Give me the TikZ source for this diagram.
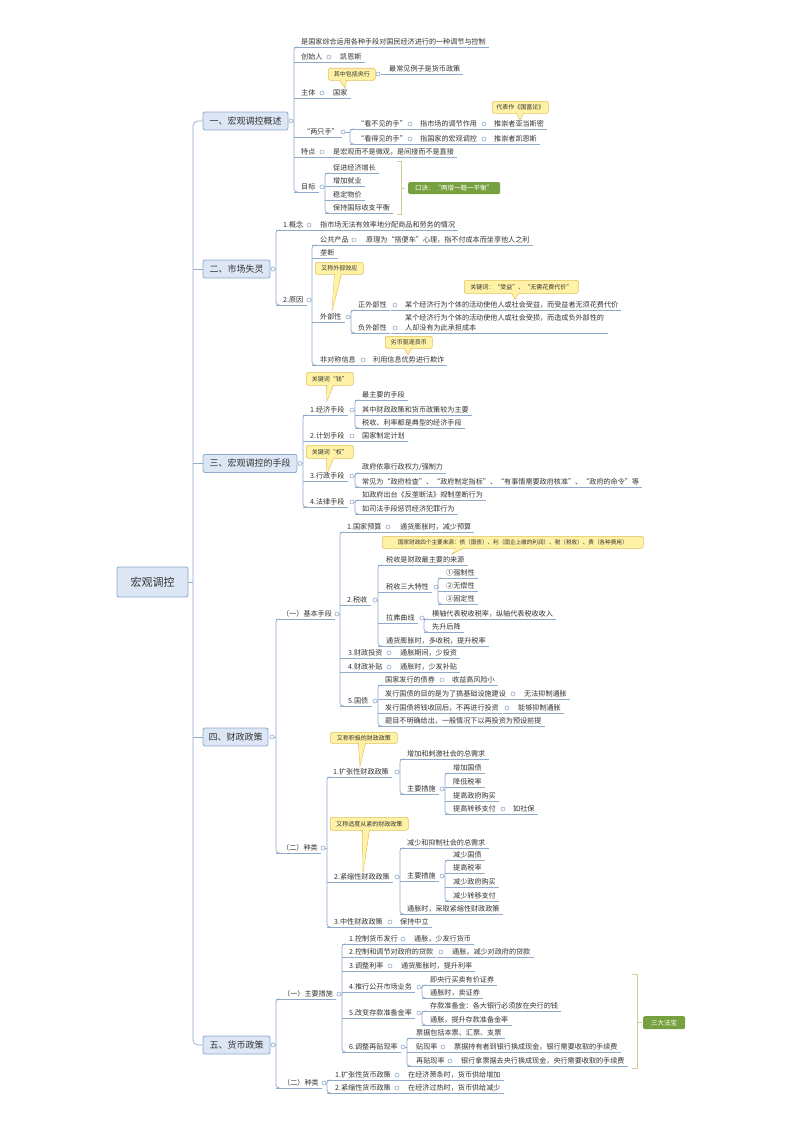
\documentclass[tikz,border=0pt]{standalone}
\usepackage{fontspec}
\setmainfont{Noto Sans CJK SC}
\definecolor{lnc}{HTML}{90AACC}
\definecolor{tpf}{HTML}{DCE6F4}
\definecolor{tpd}{HTML}{8EA8CC}
\definecolor{cof}{HTML}{FFF1A6}
\definecolor{cod}{HTML}{E2C25A}
\definecolor{grn}{HTML}{77A13E}
\definecolor{bkc}{HTML}{D8C99A}
\definecolor{txt}{HTML}{333333}
\tikzset{
 ln/.style={draw=lnc,line width=0.7pt},
 lfs/.style={anchor=south west,inner xsep=0pt,inner ysep=1.6pt,font=\fontsize{7.1}{8.5}\selectfont,text=txt},
 dotst/.style={circle,draw=lnc,fill=white,inner sep=0pt,minimum size=4pt,line width=0.6pt},
 topic/.style={rounded corners=2pt,draw=tpd,fill=tpf,line width=0.8pt,font=\fontsize{9}{10}\selectfont,text=txt,inner sep=0pt},
 callst/.style={rounded corners=2pt,draw=cod,fill=cof,line width=0.6pt,font=\fontsize{6}{7}\selectfont,text=txt,inner sep=0pt,anchor=north west},
 grnst/.style={rounded corners=1.5pt,fill=grn,text=white,font=\fontsize{6.5}{7}\selectfont\itshape,inner sep=0pt,anchor=north west},
 bk/.style={draw=bkc,line width=0.8pt}
}
\newcommand\lf[5]{\node[lfs] (#1) at (#3,#4) {#5};\draw[ln] (#2,#4) -- ([xshift=3pt]#1.south east);}
\newcommand\dt[3]{\node[dotst] (#1) at (#2,#3-5) {};}
\newcommand\tr[5]{\draw[ln] (#1.east) -- (#2,#3);\draw[ln,rounded corners=3pt] (#2+4,#4) -- (#2,#4) -- (#2,#5) -- (#2+4,#5);}
% name x1 y1 x2 y2 basex tipx tipy text
\newcommand\co[9]{\node[callst,minimum width=#4-#2,minimum height=#5-#3] (#1) at (#2,#3) {#9};
 \draw[draw=cod,line width=0.6pt,fill=cof] (#6-3.5,#5) -- (#7,#8) -- (#6+3.5,#5);
 \fill[cof] (#6-3,#5-0.8) -- (#7,#8-1) -- (#6+3,#5-0.8) -- cycle;}
\begin{document}
\begin{tikzpicture}[x=1pt,y=-1pt]
\useasboundingbox[fill=white] (0,0) rectangle (800,1132);
% root and topics
\node[topic,minimum width=71,minimum height=30,font=\fontsize{11}{12}\selectfont] (root) at (152.5,582) {宏观调控};
\node[topic,minimum width=85,minimum height=18] (t1) at (245.5,121) {一、宏观调控概述};
\node[topic,minimum width=67,minimum height=18] (t2) at (236.5,269) {二、市场失灵};
\node[topic,minimum width=94,minimum height=18] (t3) at (250,463.5) {三、宏观调控的手段};
\node[topic,minimum width=65,minimum height=18] (t4) at (235.5,737) {四、财政政策};
\node[topic,minimum width=67,minimum height=18] (t5) at (236.5,1045) {五、货币政策};
\draw[ln] (root.east) -- (193,582);
\draw[ln,rounded corners=5pt] (t1.west) -- (193,121) -- (193,1045) -- (t5.west);
\draw[ln] (193,269) -- (t2.west);
\draw[ln] (193,463.5) -- (t3.west);
\draw[ln] (193,737) -- (t4.west);
\node[dotst] (d1) at (291,121) {};
\node[dotst] (d2) at (273,269) {};
\node[dotst] (d3) at (300,463.5) {};
\node[dotst] (d4) at (272,737) {};
\node[dotst] (d5) at (273,1045) {};
% ---------- topic 1
\tr{d1}{294}{121}{47}{192}
\lf{a1}{294}{301}{47}{是国家综合运用各种手段对国民经济进行的一种调节与控制}
\lf{a2}{294}{301}{62}{创始人}\dt{a2d}{329}{62}\lf{a2c}{325}{340}{62}{凯恩斯}
\lf{a3}{294}{301}{98}{主体}\dt{a3d}{322}{98}\lf{a3c}{318}{333}{98}{国家}
\co{a3k}{328}{68}{375}{80}{343}{345}{88}{其中包括央行}
\node[dotst] (a3kd) at (378,74) {};
\lf{a3kc}{381}{389}{74}{最常见例子是货币政策}
\lf{a4}{294}{303}{137}{“两只手”}\dt{a4d}{343}{137}\tr{a4d}{350}{132}{129}{144}
\lf{a41}{350}{357}{129}{“看不见的手”}\dt{a41d}{410}{129}\lf{a41c}{406}{420}{129}{指市场的调节作用}
\dt{a41e}{484}{129}\lf{a41f}{480}{494}{129}{推崇者亚当斯密}
\lf{a42}{350}{357}{144}{“看得见的手”}\dt{a42d}{410}{144}\lf{a42c}{406}{420}{144}{指国家的宏观调控}
\dt{a42e}{484}{144}\lf{a42f}{480}{494}{144}{推崇者凯恩斯}
\co{a41k}{492}{101}{548}{113}{520}{520}{120}{代表作《国富论》}
\lf{a5}{294}{301}{157}{特点}\dt{a5d}{322}{157}\lf{a5c}{318}{333}{157}{是宏观而不是微观，是间接而不是直接}
\lf{a6}{294}{301}{192}{目标}\dt{a6d}{322}{192}\tr{a6d}{325}{187}{173}{213}
\lf{a61}{325}{333}{173}{促进经济增长}
\lf{a62}{325}{333}{186}{增加就业}
\lf{a63}{325}{333}{200}{稳定物价}
\lf{a64}{325}{333}{213}{保持国际收支平衡}
\draw[bk] (397,161) -- (401,161) -- (401,214) -- (397,214);
\draw[bk] (401,188) -- (405,188);
\node[grnst,minimum width=92,minimum height=12] (a6g) at (408,182) {口诀：“两增一稳一平衡”};
% ---------- topic 2
\tr{d2}{276}{269}{230}{305}
\lf{b1}{276}{283}{230}{1.概念}\dt{b1d}{309}{230}\lf{b1c}{305}{320}{230}{指市场无法有效率地分配商品和劳务的情况}
\lf{b2}{276}{283}{305}{2.原因}\dt{b2d}{309}{305}\tr{b2d}{312}{300}{245}{365}
\lf{b21}{312}{320}{245}{公共产品}\dt{b21d}{354}{245}\lf{b21c}{350}{366}{245}{原理为“搭便车”心理，指不付成本而坐享他人之利}
\lf{b22}{312}{320}{258}{垄断}
\lf{b23}{312}{320}{322}{外部性}\dt{b23d}{348}{322}\tr{b23d}{351}{317}{310}{333}
\co{b23k}{315}{262}{363}{274}{338}{332}{311}{又称外部效应}
\lf{b231}{351}{358}{310}{正外部性}\dt{b231d}{395}{310}\lf{b231c}{391}{405}{310}{某个经济行为个体的活动使他人或社会受益，而受益者无须花费代价}
\lf{b232}{351}{358}{333}{负外部性}\dt{b232d}{395}{333}
\node[lfs,align=left,font=\fontsize{7.1}{10}\selectfont] (b232c) at (405,333) {某个经济行为个体的活动使他人或社会受损，而造成负外部性的\\人却没有为此承担成本};
\draw[ln] (391,333) -- (608,333);
\co{b231k}{464}{280}{578}{293}{515}{515}{299}{关键词：“受益”、“无需花费代价”}
\co{b232k}{385}{336}{432}{348}{408}{408}{355}{劣币驱逐良币}
\lf{b24}{312}{320}{365}{非对称信息}\dt{b24d}{363}{365}\lf{b24c}{359}{373}{365}{利用信息优势进行欺诈}
% ---------- topic 3
\tr{d3}{303}{463.5}{415}{507}
\co{c1k}{306}{372}{353}{385}{330}{327}{401}{关键词“钱”}
\lf{c1}{303}{310}{415}{1.经济手段}\dt{c1d}{352}{415}\tr{c1d}{355}{410}{400}{428}
\lf{c11}{355}{362}{400}{最主要的手段}
\lf{c12}{355}{362}{415}{其中财政政策和货币政策较为主要}
\lf{c13}{355}{362}{428}{税收、利率都是典型的经济手段}
\lf{c2}{303}{310}{441}{2.计划手段}\dt{c2d}{352}{441}\lf{c2c}{348}{362}{441}{国家制定计划}
\co{c3k}{306}{445}{353}{458}{330}{327}{474}{关键词“权”}
\lf{c3}{303}{310}{481}{3.行政手段}\dt{c3d}{352}{481}\tr{c3d}{355}{476}{473}{487}
\lf{c31}{355}{362}{473}{政府依靠行政权力/强制力}
\lf{c32}{355}{362}{487}{常见为“政府检查”、“政府制定指标”、“有事情需要政府核准”、“政府的命令”等}
\lf{c4}{303}{310}{507}{4.法律手段}\dt{c4d}{352}{507}\tr{c4d}{355}{502}{500}{514}
\lf{c41}{355}{362}{500}{如政府出台《反垄断法》规制垄断行为}
\lf{c42}{355}{362}{514}{如司法手段惩罚经济犯罪行为}
% ---------- topic 4
\tr{d4}{276}{737}{619}{853}
\lf{e1}{276}{282}{619}{（一）基本手段}\dt{e1d}{337}{619}\tr{e1d}{340}{614}{532}{706}
\lf{e11}{340}{347}{532}{1.国家预算}\dt{e11d}{388}{532}\lf{e11c}{384}{400}{532}{通货膨胀时，减少预算}
\lf{e12}{340}{347}{605}{2.税收}\dt{e12d}{375}{605}\tr{e12d}{378}{600}{565}{646}
\lf{e121}{378}{386}{565}{税收是财政最主要的来源}
\co{e12k}{382}{536}{643}{548}{460}{452}{554}{\fontsize{5.6}{6}\selectfont 国家财政四个主要来源：债（国债）、利（国企上缴的利润）、税（税收）、费（各种费用）}
\lf{e122}{378}{386}{592}{税收三大特性}\dt{e122d}{436}{592}\tr{e122d}{438}{587}{578}{604}
\lf{e1221}{438}{446}{578}{①强制性}
\lf{e1222}{438}{446}{591}{②无偿性}
\lf{e1223}{438}{446}{604}{③固定性}
\lf{e123}{378}{386}{623}{拉弗曲线}\dt{e123d}{422}{623}\tr{e123d}{424}{618}{619}{632}
\lf{e1231}{424}{432}{619}{横轴代表税收税率，纵轴代表税收收入}
\lf{e1232}{424}{432}{632}{先升后降}
\lf{e124}{378}{386}{646}{通货膨胀时，多收税，提升税率}
\lf{e13}{340}{348}{658}{3.财政投资}\dt{e13d}{389}{658}\lf{e13c}{385}{400}{658}{通胀期间，少投资}
\lf{e14}{340}{348}{672}{4.财政补贴}\dt{e14d}{389}{672}\lf{e14c}{385}{400}{672}{通胀时，少发补贴}
\lf{e15}{340}{348}{706}{5.国债}\dt{e15d}{375}{706}\tr{e15d}{378}{701}{685}{726}
\lf{e151}{378}{385}{685}{国家发行的债券}\dt{e151d}{442}{685}\lf{e151c}{438}{452}{685}{收益高风险小}
\lf{e152}{378}{385}{699}{发行国债的目的是为了搞基础设施建设}\dt{e152d}{513}{699}\lf{e152c}{509}{524}{699}{无法抑制通胀}
\lf{e153}{378}{385}{713}{发行国债将钱收回后，不再进行投资}\dt{e153d}{507}{713}\lf{e153c}{503}{518}{713}{能够抑制通胀}
\lf{e154}{378}{385}{726}{题目不明确给出，一般情况下以再投资为预设前提}
\lf{e2}{276}{282}{853}{（二）种类}\dt{e2d}{323}{853}\tr{e2d}{327}{848}{777}{927}
\co{e21k}{330}{732}{397}{743}{362}{360}{766}{又称积极的财政政策}
\lf{e21}{327}{333}{777}{1.扩张性财政政策}\dt{e21d}{397}{777}\tr{e21d}{400}{772}{759}{794}
\lf{e211}{400}{407}{759}{增加和刺激社会的总需求}
\lf{e212}{400}{407}{794}{主要措施}\dt{e212d}{442}{794}\tr{e212d}{445}{789}{773}{814}
\lf{e2121}{445}{453}{773}{增加国债}
\lf{e2122}{445}{453}{787}{降低税率}
\lf{e2123}{445}{453}{801}{提高政府购买}
\lf{e2124}{445}{453}{814}{提高转移支付}\dt{e2124d}{503}{814}\lf{e2124c}{499}{513}{814}{如社保}
\co{e22k}{330}{817}{408}{830}{366}{363}{872}{又称适度从紧的财政政策}
\lf{e22}{327}{334}{882}{2.紧缩性财政政策}\dt{e22d}{397}{882}\tr{e22d}{400}{877}{848}{914}
\lf{e221}{400}{407}{848}{减少和抑制社会的总需求}
\lf{e222}{400}{407}{881}{主要措施}\dt{e222d}{442}{881}\tr{e222d}{445}{876}{860}{901}
\lf{e2221}{445}{453}{860}{减少国债}
\lf{e2222}{445}{453}{873}{提高税率}
\lf{e2223}{445}{453}{887}{减少政府购买}
\lf{e2224}{445}{453}{901}{减少转移支付}
\lf{e223}{400}{407}{914}{通胀时，采取紧缩性财政政策}
\lf{e23}{327}{334}{927}{3.中性财政政策}\dt{e23d}{390}{927}\lf{e23c}{386}{400}{927}{保持中立}
% ---------- topic 5
\tr{d5}{276}{1045}{999}{1088}
\lf{f1}{276}{283}{999}{（一）主要措施}\dt{f1d}{339}{999}\tr{f1d}{342}{994}{944}{1052}
\lf{f11}{342}{349}{944}{1.控制货币发行}\dt{f11d}{403}{944}\lf{f11c}{399}{414}{944}{通胀，少发行货币}
\lf{f12}{342}{349}{957}{2.控制和调节对政府的贷款}\dt{f12d}{441}{957}\lf{f12c}{437}{452}{957}{通胀，减少对政府的贷款}
\lf{f13}{342}{349}{971}{3.调整利率}\dt{f13d}{390}{971}\lf{f13c}{386}{401}{971}{通货膨胀时，提升利率}
\lf{f14}{342}{349}{992}{4.推行公开市场业务}\dt{f14d}{419}{992}\tr{f14d}{422}{987}{985}{998}
\lf{f141}{422}{430}{985}{即央行买卖有价证券}
\lf{f142}{422}{430}{998}{通胀时，卖证券}
\lf{f15}{342}{349}{1018}{5.改变存款准备金率}\dt{f15d}{419}{1018}\tr{f15d}{422}{1013}{1011}{1025}
\lf{f151}{422}{430}{1011}{存款准备金：各大银行必须放在央行的钱}
\lf{f152}{422}{430}{1025}{通胀，提升存款准备金率}
\lf{f16}{342}{349}{1052}{6.调整再贴现率}\dt{f16d}{403}{1052}\tr{f16d}{407}{1047}{1038}{1066}
\lf{f161}{407}{416}{1038}{票据包括本票、汇票、支票}
\lf{f162}{407}{416}{1052}{贴现率}\dt{f162d}{443}{1052}\lf{f162c}{439}{454}{1052}{票据持有者到银行换成现金，银行需要收取的手续费}
\lf{f163}{407}{416}{1066}{再贴现率}\dt{f163d}{450}{1066}\lf{f163c}{446}{461}{1066}{银行拿票据去央行换成现金，央行需要收取的手续费}
\draw[bk] (632,974) -- (637,974) -- (637,1068) -- (632,1068);
\draw[bk] (637,1022) -- (642,1022);
\node[grnst,minimum width=42,minimum height=13,font=\fontsize{6.5}{7}\selectfont\itshape] (f1g) at (643,1016) {三大法宝};
\lf{f2}{276}{283}{1088}{（二）种类}\dt{f2d}{324}{1088}\tr{f2d}{327}{1083}{1080}{1093}
\lf{f21}{327}{335}{1080}{1.扩张性货币政策}\dt{f21d}{397}{1080}\lf{f21c}{393}{408}{1080}{在经济萧条时，货币供给增加}
\lf{f22}{327}{335}{1093}{2.紧缩性货币政策}\dt{f22d}{397}{1093}\lf{f22c}{393}{408}{1093}{在经济过热时，货币供给减少}
\end{tikzpicture}
\end{document}
